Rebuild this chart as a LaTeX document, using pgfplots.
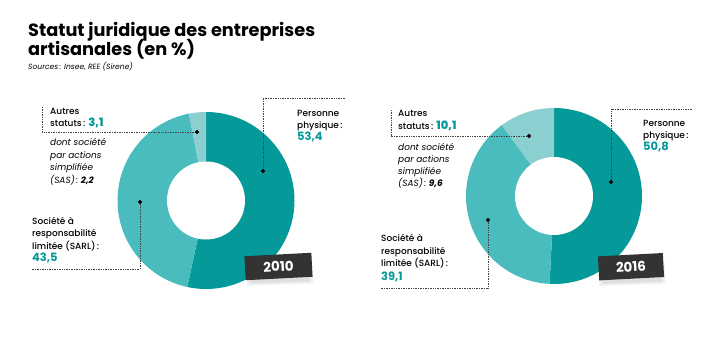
\documentclass[border=0pt]{standalone}
\usepackage{fontspec}
\setmainfont{Poppins}
\newfontfamily\med{Poppins Medium}
\usepackage{pgfplots}
\usepackage{pgfplotstable}
\pgfplotsset{compat=1.18}
\definecolor{tdark}{HTML}{05999A}
\definecolor{tmid}{HTML}{4BBCBD}
\definecolor{tlight}{HTML}{8CCFD0}
\definecolor{badge}{HTML}{333333}
\definecolor{lead}{HTML}{444444}

\pgfplotstableread{
year personne sarl autres sas
2010 53.4 43.5 3.1 2.2
2016 50.8 39.1 10.1 9.6
}\statuts

\newcommand\lab{\med\fontsize{9}{11}\selectfont}
\newcommand\ital{\itshape\fontsize{9}{11}\selectfont}
\newcommand\num[1]{{\bfseries\fontsize{11.5}{13}\selectfont\color{tdark}#1}}

\begin{document}
\begin{tikzpicture}
\pgfplotstablegetelem{0}{personne}\of\statuts \let\Pa=\pgfplotsretval
\pgfplotstablegetelem{0}{sarl}\of\statuts \let\Sa=\pgfplotsretval
\pgfplotstablegetelem{1}{personne}\of\statuts \let\Pb=\pgfplotsretval
\pgfplotstablegetelem{1}{sarl}\of\statuts \let\Sb=\pgfplotsretval
\pgfmathsetmacro\aA{90-3.6*\Pa}
\pgfmathsetmacro\aB{\aA-3.6*\Sa}
\pgfmathsetmacro\bA{90-3.6*\Pb}
\pgfmathsetmacro\bB{\bA-3.6*\Sb}
\begin{axis}[width=718bp, height=350bp, scale only axis, hide axis,
  xmin=0, xmax=718, ymin=0, ymax=350, y dir=reverse, clip=false]
\path (axis cs:0,0) rectangle (axis cs:718,350);
% donut 2010
\fill[tdark] (axis cs:206,200.5) -- ++(90:88.5bp) arc[start angle=90, end angle=\aA, radius=88.5bp] -- cycle;
\fill[tmid] (axis cs:206,200.5) -- ++(\aA:88.5bp) arc[start angle=\aA, end angle=\aB, radius=88.5bp] -- cycle;
\fill[tlight] (axis cs:206,200.5) -- ++(\aB:88.5bp) arc[start angle=\aB, end angle=-270, radius=88.5bp] -- cycle;
\fill[white] (axis cs:206,200.5) circle[radius=39bp];
% donut 2016
\fill[tdark] (axis cs:554,196) -- ++(90:88bp) arc[start angle=90, end angle=\bA, radius=88bp] -- cycle;
\fill[tmid] (axis cs:554,196) -- ++(\bA:88bp) arc[start angle=\bA, end angle=\bB, radius=88bp] -- cycle;
\fill[tlight] (axis cs:554,196) -- ++(\bB:88bp) arc[start angle=\bB, end angle=-270, radius=88bp] -- cycle;
\fill[white] (axis cs:554,196) circle[radius=39bp];
% leader lines
\draw[lead, densely dotted, line width=0.7bp] (axis cs:42,107) -- (axis cs:42,132) -- (axis cs:197,132);
\draw[lead, densely dotted, line width=0.7bp] (axis cs:345,98) -- (axis cs:263,98) -- (axis cs:263,171);
\draw[lead, densely dotted, line width=0.7bp] (axis cs:140,202) -- (axis cs:140,269) -- (axis cs:32,269);
\draw[lead, densely dotted, line width=0.7bp] (axis cs:391,110) -- (axis cs:391,136) -- (axis cs:529,136);
\draw[lead, densely dotted, line width=0.7bp] (axis cs:692,109) -- (axis cs:611,109) -- (axis cs:611,182);
\draw[lead, densely dotted, line width=0.7bp] (axis cs:488,220) -- (axis cs:488,288) -- (axis cs:381,288);
\addplot[only marks, mark=*, mark size=1.8pt, color=black] coordinates {(197,132) (263,171) (140,202) (529,136) (611,182) (488,220)};
% title
\node[anchor=base west, inner sep=0, font=\bfseries\fontsize{17.8}{19}\selectfont] at (axis cs:28,36) {Statut juridique des entreprises};
\node[anchor=base west, inner sep=0, font=\bfseries\fontsize{17.8}{19}\selectfont] at (axis cs:28,55) {artisanales (en \%)};
\node[anchor=base west, inner sep=0, font=\itshape\fontsize{7.6}{8}\selectfont] at (axis cs:28,69) {Sources\,: Insee, REE (Sirene)};
% labels 2010
\node[anchor=base west, inner sep=0, font=\lab] at (axis cs:50,114) {Autres};
\node[anchor=base west, inner sep=0, font=\lab] at (axis cs:50,126.7) {statuts\,: \num{3,1}};
\node[anchor=base west, inner sep=0, font=\ital] at (axis cs:50,145.5) {dont société};
\node[anchor=base west, inner sep=0, font=\ital] at (axis cs:50,158) {par actions};
\node[anchor=base west, inner sep=0, font=\ital] at (axis cs:50,170.5) {simplifiée};
\node[anchor=base west, inner sep=0, font=\ital] at (axis cs:50,183) {(SAS)\,: \textbf{2,2}};
\node[anchor=base west, inner sep=0, font=\lab] at (axis cs:297,116) {Personne};
\node[anchor=base west, inner sep=0, font=\lab] at (axis cs:297,128.3) {physique\,:};
\node[anchor=base west, inner sep=0] at (axis cs:297,140.5) {\num{53,4}};
\node[anchor=base west, inner sep=0, font=\lab] at (axis cs:32,224) {Société à};
\node[anchor=base west, inner sep=0, font=\lab] at (axis cs:32,236.7) {responsabilité};
\node[anchor=base west, inner sep=0, font=\lab] at (axis cs:32,249) {limitée (SARL)\,:};
\node[anchor=base west, inner sep=0] at (axis cs:32,261) {\num{43,5}};
% labels 2016
\node[anchor=base west, inner sep=0, font=\lab] at (axis cs:398,116.7) {Autres};
\node[anchor=base west, inner sep=0, font=\lab] at (axis cs:398,129) {statuts\,: \num{10,1}};
\node[anchor=base west, inner sep=0, font=\ital] at (axis cs:398,150) {dont société};
\node[anchor=base west, inner sep=0, font=\ital] at (axis cs:398,162) {par actions};
\node[anchor=base west, inner sep=0, font=\ital] at (axis cs:398,174.3) {simplifiée};
\node[anchor=base west, inner sep=0, font=\ital] at (axis cs:398,186.7) {(SAS)\,: \textbf{9,6}};
\node[anchor=base west, inner sep=0, font=\lab] at (axis cs:643,126.7) {Personne};
\node[anchor=base west, inner sep=0, font=\lab] at (axis cs:643,138.3) {physique\,:};
\node[anchor=base west, inner sep=0] at (axis cs:643,150.7) {\num{50,8}};
\node[anchor=base west, inner sep=0, font=\lab] at (axis cs:381,241.7) {Société à};
\node[anchor=base west, inner sep=0, font=\lab] at (axis cs:381,254.3) {responsabilité};
\node[anchor=base west, inner sep=0, font=\lab] at (axis cs:381,266.7) {limitée (SARL)\,:};
\node[anchor=base west, inner sep=0] at (axis cs:381,280) {\num{39,1}};
% badges with shadows
\node[fill=black, fill opacity=0.06, rotate=2, minimum width=66bp, minimum height=22bp, inner sep=0] at (axis cs:279.5,273.5) {};
\node[fill=black, fill opacity=0.07, rotate=2, minimum width=60bp, minimum height=20bp, inner sep=0] at (axis cs:279.5,272.5) {};
\node[fill=black, fill opacity=0.06, rotate=2, minimum width=66bp, minimum height=22bp, inner sep=0] at (axis cs:632,273.7) {};
\node[fill=black, fill opacity=0.07, rotate=2, minimum width=60bp, minimum height=20bp, inner sep=0] at (axis cs:632,272.7) {};
\node[fill=badge, text=white, rotate=3, minimum width=67bp, minimum height=24bp, inner sep=0, font=\bfseries\fontsize{13.5}{15}\selectfont] at (axis cs:278.5,266.5) {2010};
\node[fill=badge, text=white, rotate=3, minimum width=65bp, minimum height=24bp, inner sep=0, font=\bfseries\fontsize{13.5}{15}\selectfont] at (axis cs:631,266.7) {2016};
\end{axis}
\end{tikzpicture}
\end{document}
